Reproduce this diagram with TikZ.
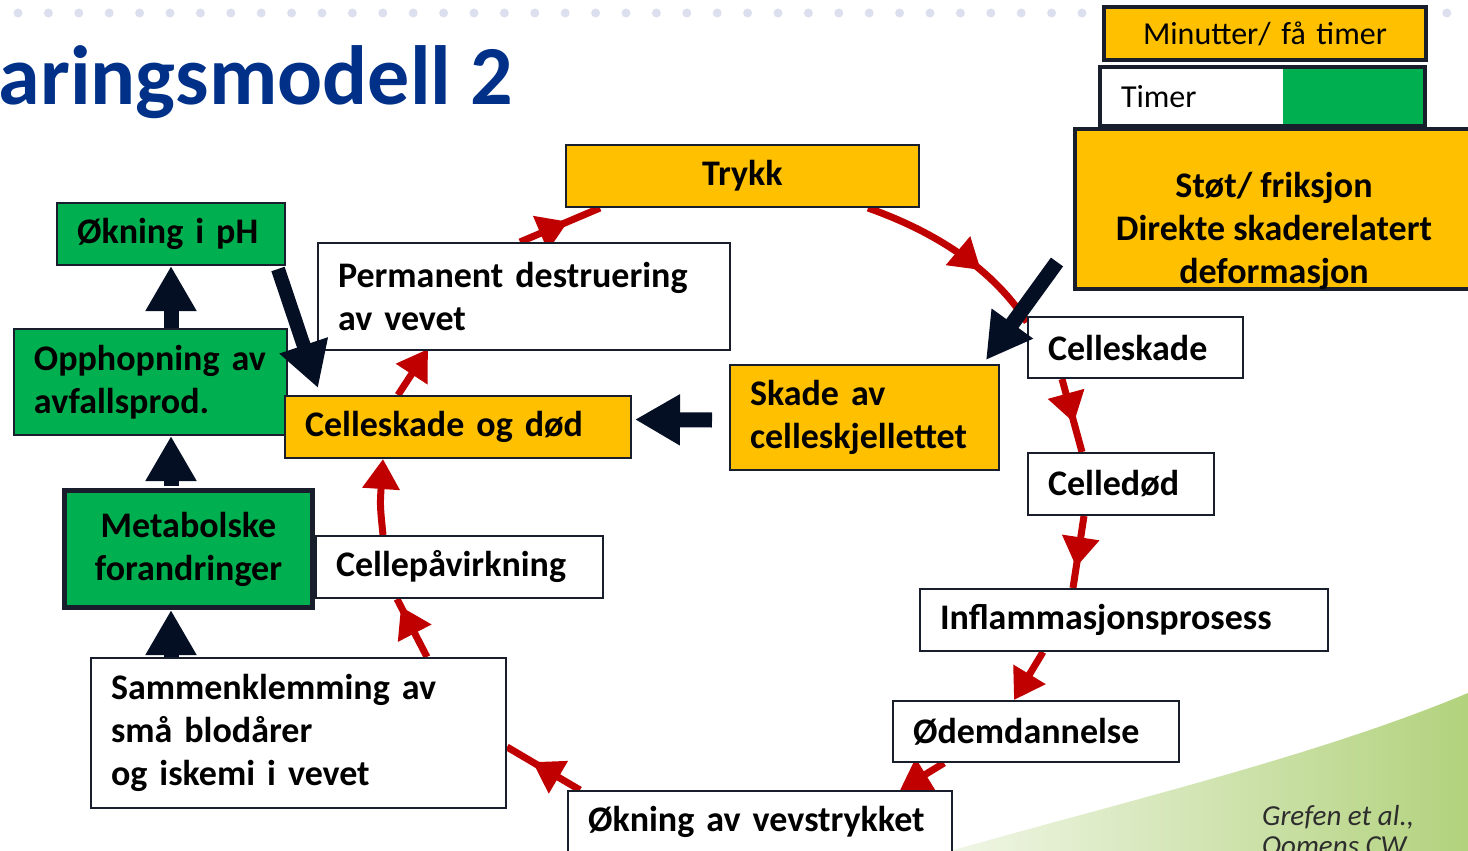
\documentclass[tikz,border=0pt]{standalone}
\usepackage{fontspec}
\setmainfont{Carlito}
\usetikzlibrary{arrows.meta,decorations.markings,calc}
\definecolor{org}{RGB}{255,192,0}
\definecolor{grn}{RGB}{0,176,80}
\definecolor{redA}{RGB}{192,0,0}
\definecolor{navy}{RGB}{5,15,35}
\definecolor{bline}{RGB}{25,30,45}
\definecolor{ttl}{RGB}{0,48,135}
\definecolor{dotc}{RGB}{220,223,238}
\definecolor{gA}{RGB}{240,246,230}
\definecolor{gB}{RGB}{178,210,125}
\definecolor{citec}{RGB}{45,45,45}
\newcommand{\bxfont}{\bfseries\fontsize{36}{43}\selectfont}
\newcommand{\lgfont}{\fontsize{32}{36}\selectfont}
\pgfdeclarelayer{bg}
\pgfsetlayers{bg,main}
\begin{document}
\begin{tikzpicture}[x=1pt,y=-1pt,
 box/.style={draw=bline, line width=2pt, anchor=north west, inner xsep=20pt, inner ysep=0pt, align=left, font=\bxfont, text=black},
 wh/.style n args={3}{minimum width=#1pt, minimum height=#2pt, text width=#3pt},
 redmid/.style={draw=redA, line width=7pt, postaction={decorate}, decoration={markings, mark=at position #1 with {\arrow{Triangle[length=30pt,width=36pt]}}}},
 redend/.style={draw=redA, line width=7pt, -{Triangle[length=30pt,width=36pt]}},
 blk/.style={draw=navy, line width=15pt, -{Triangle[length=45pt,width=48pt]}},
]
\useasboundingbox (0,0) rectangle (1468,851);

% ---------- boxes ----------
\node[box, fill=org, wh={353}{62}{313}, align=center] (trykk) at (565,144) {Trykk};
\node[box, fill=white, wh={412}{107}{372}] (perm) at (317,242) {\mbox{Permanent destruering}\\\mbox{av vevet}};
\node[box, fill=grn, wh={228}{62}{188}] (ph) at (56,202) {\mbox{Økning i pH}};
\node[box, fill=grn, wh={273}{106}{233}] (opp) at (13,328) {\mbox{Opphopning av}\\\mbox{avfallsprod.}};
\node[box, fill=org, wh={346}{62}{306}] (ccd) at (284,395) {\mbox{Celleskade og død}};
\node[box, fill=org, wh={269}{105}{229}] (skade) at (729,364) {\mbox{Skade av}\\\mbox{celleskjellettet}};
\node[box, fill=white, wh={215}{61}{175}] (cs) at (1027,316) {Celleskade};
\node[box, fill=white, wh={186}{62}{146}] (cd) at (1027,452) {Celledød};
\node[box, fill=white, wh={408}{62}{368}] (infl) at (919,588) {Inflammasjonsprosess};
\node[box, fill=white, wh={286}{61}{246}] (odem) at (892,700) {Ødemdannelse};
\node[box, fill=white, wh={384}{62}{344}] (okv) at (567,790) {\mbox{Økning av vevstrykket}};
\node[box, fill=white, wh={415}{150}{375}] (samm) at (90,657) {\mbox{Sammenklemming av}\\\mbox{små blodårer}\\\mbox{og iskemi i vevet}};
\node[box, fill=white, wh={287}{62}{247}] (cpv) at (315,535) {Cellepåvirkning};
\node[box, fill=grn, line width=5pt, wh={248}{117}{208}, align=center] (meta) at (62,488) {Metabolske\\forandringer};

% ---------- legend ----------
\node[box, fill=org, line width=4pt, wh={322}{53}{282}, align=center, font=\lgfont] (minutt) at (1102,5) {\mbox{Minutter/ få timer}};
\node[box, draw=none, fill=white, wh={323}{57}{283}, font=\lgfont] (timer) at (1100,67) {Timer};
\fill[grn] ($(timer.north west)+(183,0)$) rectangle (timer.south east);
\draw[bline, line width=4pt] (timer.north west) rectangle (timer.south east);
\node[box, fill=org, line width=4pt, wh={398}{160}{358}] (stot) at (1073,127) {};
\node[font=\bxfont, align=center, text=black, inner sep=0pt] (stottxt) at ($(stot.center)+(0,22)$) {Støt/ friksjon\\Direkte skaderelatert\\deformasjon};

% ---------- background ----------
\begin{pgfonlayer}{bg}
\shade[left color=gA, right color=gB] (950,851) .. controls (1130,800) and (1320,755) .. (1468,693) -- (1468,851) -- cycle;
\foreach \k in {0,...,47} \fill[dotc] (18+30.4*\k,13) circle (4.5pt);
\node[font=\bfseries\fontsize{84}{96}\selectfont, text=ttl, anchor=base east, inner sep=0pt] (title) at (513,105) {aringsmodell 2};
\node[font=\itshape\fontsize{29}{34}\selectfont, text=citec, anchor=base west, inner sep=0pt] (cite1) at (1262,825) {Grefen et al.,};
\node[font=\itshape\fontsize{29}{34}\selectfont, text=citec, anchor=base west, inner sep=0pt] (cite2) at (1262,855) {Oomens CW,};
% red cycle
\draw[redmid=0.6] ($(perm.north west)+(203,0)$) -- ($(trykk.south west)+(35,0)$);
\draw[redmid=0.65] ($(trykk.south west)+(303,0)$) .. controls (930,230) and (990,265) .. ($(cs.north west)+(0,6)$);
\draw[redmid=0.6] ($(cs.south west)+(35,0)$) -- ($(cd.north west)+(55,0)$);
\draw[redmid=0.71] ($(cd.south west)+(57,0)$) -- ($(infl.north west)+(154,0)$);
\draw[redend] ($(infl.south west)+(124,0)$) -- ($(odem.north west)+(122,0)$);
\draw[redend] ($(odem.south west)+(52,0)$) -- ($(okv.north west)+(333,0)$);
\draw[redmid=0.65] ($(okv.north west)+(13,0)$) -- ($(samm.south east)+(0,-62)$);
\draw[redmid=0.87] ($(samm.north west)+(337,0)$) -- ($(cpv.south west)+(82,0)$);
\draw[redend] ($(cpv.north west)+(68,0)$) .. controls (380,505) .. ($(ccd.south west)+(99,0)$);
\draw[redend] ($(ccd.north west)+(114,0)$) -- ($(perm.south west)+(111,-2)$);
\end{pgfonlayer}

% ---------- black arrows ----------
\draw[blk] ($(opp.north west)+(158,0)$) -- ($(ph.south west)+(115,0)$);
\draw[blk] ($(meta.north west)+(109,-2)$) -- ($(opp.south west)+(158,0)$);
\draw[blk] ($(samm.north west)+(81,0)$) -- ($(meta.south west)+(109,0)$);
\draw[blk, line width=14pt] ($(ph.south east)+(-8,3)$) -- ($(ccd.north west)+(34,-7)$);
\draw[blk] ($(skade.west)+(-17,2.5)$) -- ($(ccd.east)+(3,-7.5)$);
\draw[blk] ($(stot.south west)+(-16,-29)$) -- ($(skade.north east)+(-14,-4)$);
\end{tikzpicture}
\end{document}
